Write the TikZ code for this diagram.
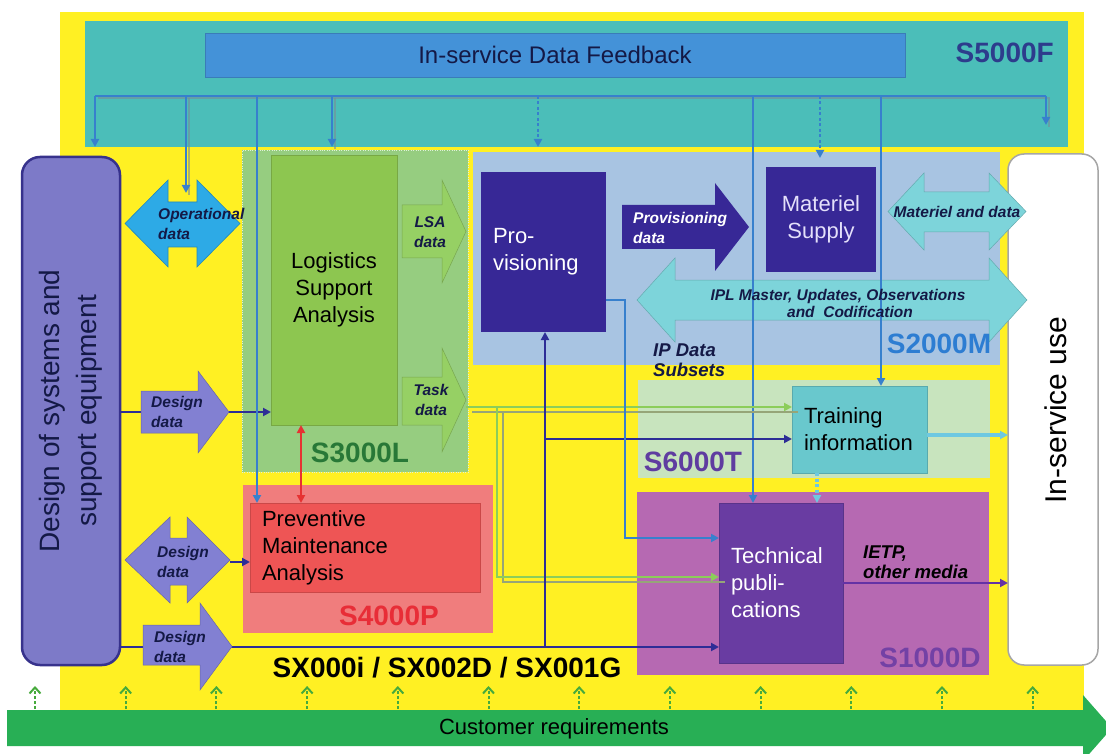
\documentclass[tikz,border=0pt]{standalone}
\usepackage{fontspec}
\setmainfont{Liberation Sans}
\usetikzlibrary{arrows.meta,calc}
\definecolor{yellowbg}{RGB}{255,240,35}
\definecolor{tealbg}{RGB}{75,190,185}
\definecolor{fbbar}{RGB}{68,146,216}
\definecolor{fbline}{RGB}{55,128,205}
\definecolor{fbshadow}{RGB}{120,140,150}
\definecolor{navyl}{RGB}{45,45,150}
\definecolor{designfill}{RGB}{125,122,200}
\definecolor{designdraw}{RGB}{55,50,140}
\definecolor{s3000bg}{RGB}{150,205,128}
\definecolor{lsafill}{RGB}{141,198,80}
\definecolor{lsaarr}{RGB}{150,208,100}
\definecolor{s4000bg}{RGB}{240,125,125}
\definecolor{pmafill}{RGB}{238,85,85}
\definecolor{s2000bg}{RGB}{168,196,226}
\definecolor{indigo}{RGB}{55,40,150}
\definecolor{cyanarr}{RGB}{125,212,218}
\definecolor{s6000bg}{RGB}{200,228,190}
\definecolor{trainfill}{RGB}{105,200,205}
\definecolor{s1000bg}{RGB}{182,105,178}
\definecolor{techfill}{RGB}{105,60,162}
\definecolor{opdfill}{RGB}{45,170,230}
\definecolor{ddarr}{RGB}{130,128,210}
\definecolor{greenbar}{RGB}{40,175,85}
\definecolor{gupcol}{RGB}{70,170,60}
\definecolor{lblfive}{RGB}{45,60,140}
\definecolor{lblthree}{RGB}{40,120,55}
\definecolor{lblfour}{RGB}{232,45,55}
\definecolor{lbltwo}{RGB}{45,125,210}
\definecolor{lblsix}{RGB}{95,60,160}
\definecolor{lblone}{RGB}{115,65,165}
\definecolor{txtnavy}{RGB}{20,25,70}
\definecolor{glinecol}{RGB}{140,205,90}
\definecolor{gshadowcol}{RGB}{150,165,120}
\definecolor{clinecol}{RGB}{110,200,225}
\definecolor{plinecol}{RGB}{100,50,165}
\definecolor{redline}{RGB}{230,50,50}
% right block arrow: style, tail x, head back x, tip x, head top, head bottom, shaft top, shaft bottom
\newcommand\rarrow[8]{\path[#1] (#2,#7) -- (#3,#7) -- (#3,#5) -- (#4,{(#5+#6)/2}) -- (#3,#6) -- (#3,#8) -- (#2,#8) -- cycle;}
% double block arrow: style, left tip, left back, right back, right tip, head top, head bottom, shaft top, shaft bottom
\newcommand\darrow[9]{\path[#1] (#2,{(#6+#7)/2}) -- (#3,#6) -- (#3,#8) -- (#4,#8) -- (#4,#6) -- (#5,{(#6+#7)/2}) -- (#4,#7) -- (#4,#9) -- (#3,#9) -- (#3,#7) -- cycle;}
\begin{document}
\begin{tikzpicture}[x=1pt,y=-1pt,
  reg/.style={anchor=north west, inner sep=0pt, outer sep=0pt},
  boxfont/.style={font=\fontsize{22}{27}\selectfont},
  arrfont/.style={font=\fontsize{15.5}{19.5}\selectfont\bfseries\itshape, text=txtnavy, inner sep=0pt},
  lblfont/.style={font=\fontsize{28}{32}\selectfont\bfseries, inner sep=0pt},
  fbl/.style={draw=fbline, line width=2.6pt},
  fbs/.style={draw=fbshadow, line width=1.6pt, opacity=0.6, transform canvas={shift={(3pt,-2pt)}}},
  navyline/.style={draw=navyl, line width=2.8pt},
  gline/.style={draw=glinecol, line width=2.8pt},
  gshadow/.style={draw=gshadowcol, line width=2.4pt, transform canvas={shift={(6pt,-5pt)}}},
  cline/.style={draw=clinecol, line width=3.5pt},
  pline/.style={draw=plinecol, line width=2.6pt},
  tip/.style={-{Triangle[length=8pt,width=8pt]}},
  dotline/.style={dash pattern=on 3pt off 2.5pt},
  gup/.style={draw=gupcol, line width=2pt, dash pattern=on 3pt off 2pt, -{Straight Barb[length=6pt,width=11pt]}}
]
\useasboundingbox (0,0) rectangle (1106,754);
\clip (0,0) rectangle (1106,754);
\fill[white] (0,0) rectangle (1106,754);

% backgrounds
\node[reg, fill=yellowbg, minimum width=1024pt, minimum height=698pt] (yellow) at (60,12) {};
\node[reg, fill=tealbg, minimum width=983pt, minimum height=126pt] (teal) at (85,21) {};
\node[reg, fill=fbbar, draw=fbbar!85!black, line width=0.8pt, minimum width=700pt, minimum height=44pt, font=\fontsize{24}{28}\selectfont, text=txtnavy] (fb) at (205,33) {In-service Data Feedback};

% regions
\node[reg, fill=s3000bg, draw=white!70!s3000bg, dotted, minimum width=226pt, minimum height=322pt] (s3000) at (242,150) {};
\node[reg, fill=s4000bg, minimum width=250pt, minimum height=148pt] (s4000) at (243,485) {};
\node[reg, fill=s2000bg, minimum width=527pt, minimum height=213pt] (s2000) at (473,152) {};
\node[reg, fill=s6000bg, minimum width=352pt, minimum height=98pt] (s6000) at (638,380) {};
\node[reg, fill=s1000bg, minimum width=352pt, minimum height=183pt] (s1000) at (637,492) {};

% side boxes
\node[reg, fill=designfill, draw=designdraw, line width=2.5pt, rounded corners=18pt, minimum width=98pt, minimum height=508pt] (design) at (22,157) {};
\node[rotate=90, align=center, font=\fontsize{28}{37}\selectfont, text=txtnavy] (designtxt) at (design.center) {Design of systems and\\support equipment};
\node[reg, fill=white, draw=black!35, line width=1.5pt, rounded corners=16pt, minimum width=90pt, minimum height=511pt] (inservice) at (1008,154) {};
\node[rotate=90, font=\fontsize{30}{34}\selectfont] (inservicetxt) at (1056,410) {In-service use};

% lines under block arrows
\coordinate (dd1) at (229,412);
\draw[navyline,tip] (design.east |- dd1) -- (271,412);
\coordinate (dd3) at (232,647);
\draw[navyline,tip] (design.east |- dd3) -- (719,647);

% block arrows
\darrow{fill=opdfill, draw=opdfill!80!black, line width=0.6pt}{125}{168}{197}{240}{180}{267}{202}{247}
\rarrow{fill=lsaarr, draw=lsaarr!80!black, line width=0.5pt}{402}{442}{466}{180}{283}{205}{258}
\rarrow{fill=lsaarr, draw=lsaarr!80!black, line width=0.5pt}{402}{442}{466}{348}{452}{377}{425}
\rarrow{fill=ddarr, draw=ddarr!80!black, line width=0.5pt}{141}{198}{229}{371}{453}{391}{433}
\darrow{fill=ddarr, draw=ddarr!80!black, line width=0.5pt}{125}{170}{187}{230}{517}{603}{538}{585}
\rarrow{fill=ddarr, draw=ddarr!80!black, line width=0.5pt}{143}{200}{232}{603}{690}{625}{665}
\rarrow{fill=indigo}{622}{715}{749}{183}{271}{205}{249}
\darrow{fill=cyanarr, draw=cyanarr!80!black, line width=0.5pt}{888}{924}{989}{1026}{173}{250}{192}{232}
\darrow{fill=cyanarr, draw=cyanarr!80!black, line width=0.5pt}{637}{675}{989}{1027}{258}{342}{280}{320}
\rarrow{fill=greenbar}{7}{1083}{1112}{695}{761}{710}{746}

% main boxes
\node[reg, fill=lsafill, draw=lsafill!85!black, line width=0.6pt, minimum width=126pt, minimum height=270pt, boxfont, align=center] (lsa) at (271,155) {Logistics\\Support\\Analysis};
\node[reg, fill=pmafill, draw=pmafill!85!black, line width=0.6pt, minimum height=89pt, boxfont, align=left, text width=206pt, inner xsep=12pt] (pma) at (250,503) {Preventive\\Maintenance\\Analysis};
\node[reg, fill=indigo, minimum height=160pt, boxfont, align=left, text width=101pt, inner xsep=12pt, text=white] (prov) at (481,172) {Pro-\\visioning};
\node[reg, fill=indigo, minimum width=110pt, minimum height=105pt, boxfont, align=center, text={rgb,255:red,228;green,224;blue,250}] (mat) at (766,167) {Materiel\\Supply};
\node[reg, fill=trainfill, draw=trainfill!85!black, line width=0.6pt, minimum height=87pt, boxfont, align=left, text width=111pt, inner xsep=12pt] (train) at (792,386) {Training\\information};
\node[reg, fill=techfill, draw=techfill!85!black, line width=0.6pt, minimum height=160pt, boxfont, align=left, text width=100pt, inner xsep=12pt, text=white] (tech) at (719,503) {Technical\\publi-\\cations};

% feedback distribution
\coordinate (j1) at (95,96);
\coordinate (j2) at (186,96);
\coordinate (j3) at (257,96);
\coordinate (j4) at (332,96);
\coordinate (j5) at (538,96);
\coordinate (j6) at (753,96);
\coordinate (j7) at (820,96);
\coordinate (j8) at (881,96);
\coordinate (j9) at (1046,96);
\coordinate (opdtop) at (186,193);
\coordinate (matin) at (820,158);
\coordinate (fbend) at (1046,125);
\draw[fbs] (j1) -- (j9) -- (fbend);
\draw[fbs] (j2) -- (opdtop);
\draw[fbs] (j4) -- (j4 |- teal.south);
\draw[fbl] (j1) -- (j9);
\draw[fbl,tip] (j1) -- (j1 |- teal.south);
\draw[fbl,tip] (j2) -- (opdtop);
\draw[fbl,tip] (j3) -- (j3 |- pma.north);
\draw[fbl,tip] (j4) -- (j4 |- teal.south);
\draw[fbl,tip,dotline] (j5) -- (j5 |- teal.south);
\draw[fbl,tip] (j6) -- (j6 |- tech.north);
\draw[fbl,tip,dotline] (j7) -- (matin);
\draw[fbl,tip] (j8) -- (j8 |- train.north);
\draw[fbl,tip] (j9) -- (fbend);

% design data 2 to PMA
\coordinate (dd2) at (230,562);
\draw[navyline,tip] (dd2) -- (pma.west |- dd2);

% task data lines
\coordinate (td) at (466,407);
\coordinate (tb1) at (497,407);
\coordinate (tb2) at (497,577);
\draw[gshadow] (td) -- (td -| train.west);
\draw[gshadow] (tb1) -- (tb2) -- (tb2 -| tech.west);
\draw[gline,tip] (td) -- (td -| train.west);
\draw[gline,tip] (tb1) -- (tb2) -- (tb2 -| tech.west);

% navy lines
\coordinate (nv) at (545,647);
\coordinate (nh) at (545,439);
\draw[navyline,tip] (nv) -- (nv |- prov.south);
\draw[navyline,tip] (nh) -- (nh -| train.west);

% provisioning to technical publications
\coordinate (pt1) at (625,300);
\coordinate (pt2) at (625,538);
\draw[fbl,tip] (prov.east |- pt1) -- (pt1) -- (pt2) -- (pt2 -| tech.west);

% LSA <-> PMA
\coordinate (rx) at (301,0);
\draw[draw=redline, line width=2.6pt, {Triangle[length=8pt,width=8pt]}-{Triangle[length=8pt,width=8pt]}] (lsa.south -| rx) -- (pma.north -| rx);

% outputs
\coordinate (ti) at (0,435);
\draw[cline,tip] (train.east |- ti) -- (inservice.west |- ti);
\coordinate (ie) at (0,583);
\draw[pline,tip] (tech.east |- ie) -- (inservice.west |- ie);
\coordinate (tt) at (817,0);
\draw[cline,tip,dotline] (train.south -| tt) -- (tech.north -| tt);

% customer requirement arrows
\foreach \i in {0,...,11} {
  \coordinate (gb\i) at ({35+90.7*\i},709);
  \draw[gup] (gb\i) -- ++(0,-23);
}

% block arrow texts
\node[arrfont, anchor=west, align=left] (opdtxt) at (158,224) {Operational\\data};
\node[arrfont, align=center] (lsadtxt) at (430,232) {LSA\\data};
\node[arrfont, align=center] (taskdtxt) at (431,400) {Task\\data};
\node[arrfont, anchor=west, align=left] (dd1txt) at (151,412) {Design\\data};
\node[arrfont, anchor=west, align=left] (dd2txt) at (157,562) {Design\\data};
\node[arrfont, anchor=west, align=left] (dd3txt) at (154,647) {Design\\data};
\node[arrfont, anchor=west, align=left, text=white] (provdtxt) at (633,228) {Provisioning\\data};
\node[arrfont, align=center] (matdtxt) at (957,212) {Materiel and data};
\node[arrfont, align=center, font=\fontsize{15.5}{17}\selectfont\bfseries\itshape] (ipltxt) at (838,303) {IPL Master, Updates, Observations\\\hspace*{24pt}and\ \ Codification};
\node[arrfont, anchor=west, align=left, font=\fontsize{18.5}{20}\selectfont\bfseries\itshape] (ipdtxt) at (653,360) {IP Data\\Subsets};
\node[arrfont, anchor=west, align=left, font=\fontsize{18.5}{20}\selectfont\bfseries\itshape, text=black] (ietptxt) at (863,562) {IETP,\\other media};

% labels
\node[lblfont, text=lblfive, anchor=east] (l5) at (1054,53) {S5000F};
\node[lblfont, text=lblthree] (l3) at (360,453) {S3000L};
\node[lblfont, text=lblfour] (l4) at (389,616) {S4000P};
\node[lblfont, text=lbltwo] (l2) at (939,344) {S2000M};
\node[lblfont, text=lblsix] (l6) at (693,462) {S6000T};
\node[lblfont, text=lblone] (l1) at (930,658) {S1000D};
\node[lblfont, text=black] (sx) at (447,668) {SX000i / SX002D / SX001G};
\node[font=\fontsize{22}{26}\selectfont] (cust) at (554,729) {Customer requirements};
\end{tikzpicture}
\end{document}
